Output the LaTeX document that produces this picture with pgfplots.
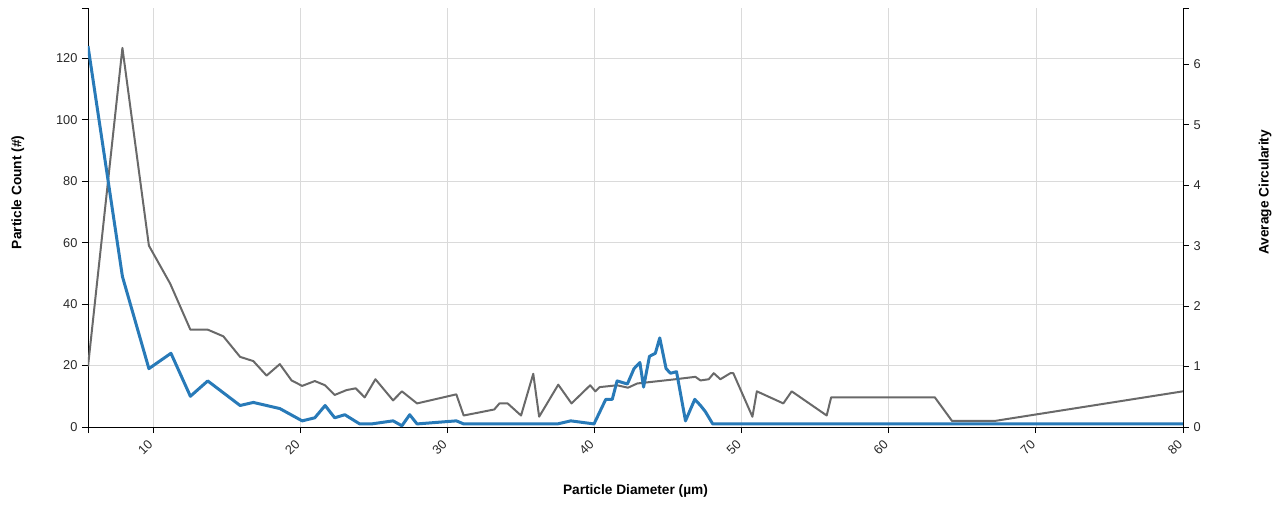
\documentclass[border=0pt]{standalone}
\usepackage{fontspec}
\setmainfont{Liberation Sans}
\usepackage{pgfplots}
\pgfplotsset{compat=1.18}
\definecolor{cblue}{RGB}{40,122,184}
\definecolor{cgray}{RGB}{105,105,105}
\definecolor{cgrid}{RGB}{218,218,218}
\definecolor{ctext}{RGB}{40,40,40}

\pgfplotstableread{
x y
5.56 124
7.90 49
9.70 19
11.20 24
12.52 10
13.70 15
15.90 7
16.80 8
18.60 6
20.12 2
20.98 3
21.68 7
22.33 3
23.02 4
24.03 1
24.83 1
26.30 2
26.90 0.4
27.43 4
27.93 1
30.60 2
31.10 1
37.48 1
38.38 2
39.96 1
40.76 9
41.20 9
41.53 15
42.23 14
42.68 19
43.08 21
43.33 13
43.73 23
44.13 24
44.43 29
44.86 19
45.16 17.5
45.57 18
46.18 2
46.81 9
47.20 7
47.53 5
48.03 1
80 1
}\countdata

\pgfplotstableread{
x y
5.56 1.00
7.90 6.27
9.70 3.00
11.15 2.37
12.52 1.61
13.70 1.61
14.76 1.50
15.90 1.16
16.80 1.09
17.70 0.85
18.60 1.04
19.40 0.77
20.12 0.68
20.98 0.76
21.68 0.69
22.33 0.53
23.13 0.61
23.76 0.64
24.37 0.49
25.10 0.79
26.30 0.44
26.90 0.59
27.93 0.39
30.60 0.54
31.10 0.19
33.18 0.29
33.53 0.39
34.09 0.39
35.00 0.19
35.83 0.88
36.23 0.17
37.53 0.70
38.43 0.39
39.70 0.69
40.05 0.59
40.35 0.66
41.53 0.69
42.27 0.65
42.90 0.72
45.50 0.79
46.85 0.83
47.20 0.77
47.76 0.79
48.10 0.89
48.55 0.79
49.23 0.89
49.43 0.89
50.73 0.17
51.03 0.59
52.83 0.39
53.40 0.59
55.78 0.19
56.08 0.49
63.13 0.49
64.30 0.10
67.20 0.10
80 0.59
}\circdata

\pgfplotsset{
  base/.style={
    scale only axis, width=1095pt, height=419pt,
    xmin=5.56, xmax=80,
    ticklabel style={font=\fontsize{12.8}{14}\selectfont, text=ctext},
    /pgf/number format/assume math mode=true,
    major tick length=6pt, tick align=outside,
    tick style={black, line width=0.8pt},
    axis line style={-, black, line width=0.9pt},
    label style={font=\bfseries\fontsize{13.7}{16}\selectfont, text=black},
  }
}

\begin{document}
\begin{tikzpicture}
% left count axis with grid
\begin{axis}[base,
  ymin=0, ymax=136.4,
  axis x line*=bottom, axis y line*=left,
  xtick={10,20,...,80}, ytick={0,20,...,120},
  extra x ticks={5.56}, extra y ticks={136.4},
  extra x tick labels={}, extra y tick labels={},
  extra tick style={grid=none},
  grid=major, grid style={cgrid, line width=0.7pt},
  xticklabel style={anchor=center, xshift=-8pt, yshift=-14pt, rotate=45},
  yticklabel style={xshift=-1pt},
  xlabel={Particle Diameter (µm)},
  ylabel={Particle Count (\#)},
  xlabel style={at={(axis description cs:0.5,-0.153)}, anchor=center},
  ylabel style={at={(axis description cs:-0.064,0.56)}, anchor=center},
]
\addplot[draw=none, forget plot] coordinates {(10,0)};
\end{axis}
% right circularity axis
\begin{axis}[base,
  ymin=0, ymax=6.93,
  axis x line=none, axis y line*=right,
  ytick={0,1,...,6}, extra y ticks={6.93}, extra y tick labels={},
  yticklabel style={xshift=1pt},
  ylabel={Average Circularity},
  ylabel style={at={(axis description cs:1.075,0.56)}, anchor=center, rotate=0},
]
\addplot[cgray, line width=2pt, line join=round] table[x=x,y=y]{\circdata};
\end{axis}
% count line on top
\begin{axis}[base, ymin=0, ymax=136.4, hide axis]
\addplot[cblue, line width=3pt, line join=round] table[x=x,y=y]{\countdata};
\end{axis}
\pgfresetboundingbox
\useasboundingbox (-88pt,-77pt) rectangle (1195pt,427pt);
\end{tikzpicture}
\end{document}
